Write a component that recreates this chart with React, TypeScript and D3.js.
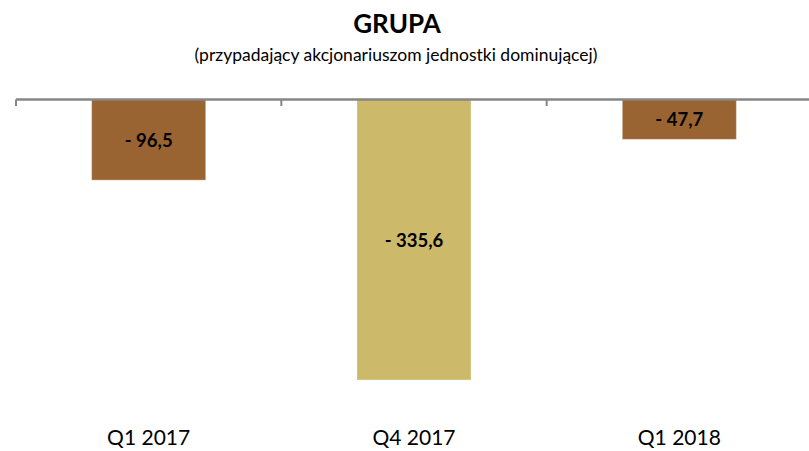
import React from "react";
import * as d3 from "d3";

const categories = ["Q1 2017", "Q4 2017", "Q1 2018"];
const values = [-96.5, -335.6, -47.7];
const labels = ["- 96,5", "- 335,6", "- 47,7"];
const colors = ["#9A6432", "#CDB96A", "#9A6432"];

const W = 809;
const H = 451;
const FONT = "Lato, 'Open Sans', sans-serif";

export default function App() {
  const band = d3.scaleBand<string>().domain(categories).range([16, 812]);
  const barW = band.bandwidth() * 0.43;
  const barX = (c: string) => (band(c) as number) + (band.bandwidth() - barW) / 2;
  const y = d3.scaleLinear().domain([0, -335.6]).range([99.5, 380]);
  const ticks = [0, 1, 2, 3].map((i) => 16 + i * band.step());
  return (
    <svg width={W} height={H} style={{ position: "absolute", left: 0, top: 0, fontFamily: FONT }}>
      <text x={397} y={33} textAnchor="middle" fontSize={26} fontWeight="bold" fill="#000">GRUPA</text>
      <text x={396} y={61} textAnchor="middle" fontSize={17.5} fill="#000">(przypadający akcjonariuszom jednostki dominującej)</text>
      {categories.map((c, i) => (
        <rect key={c} x={barX(c)} y={y(0)} width={barW} height={y(values[i]) - y(0)} fill={colors[i]} stroke="#ffffff" strokeOpacity={0.35} strokeWidth={1} />
      ))}
      <line x1={16} x2={W} y1={99.5} y2={99.5} stroke="#868686" strokeWidth={2.5} />
      {ticks.map((t, i) => (
        <line key={i} x1={t} x2={t} y1={99.5} y2={106} stroke="#868686" strokeWidth={2} />
      ))}
      {categories.map((c, i) => (
        <text key={c} x={barX(c) + barW / 2} y={(y(0) + y(values[i])) / 2 + 7} textAnchor="middle" fontSize={18.5} fontWeight="bold" fill="#000">{labels[i]}</text>
      ))}
      {categories.map((c) => (
        <text key={c} x={(band(c) as number) + band.bandwidth() / 2} y={445} textAnchor="middle" fontSize={21} fill="#000">{c}</text>
      ))}
    </svg>
  );
}
